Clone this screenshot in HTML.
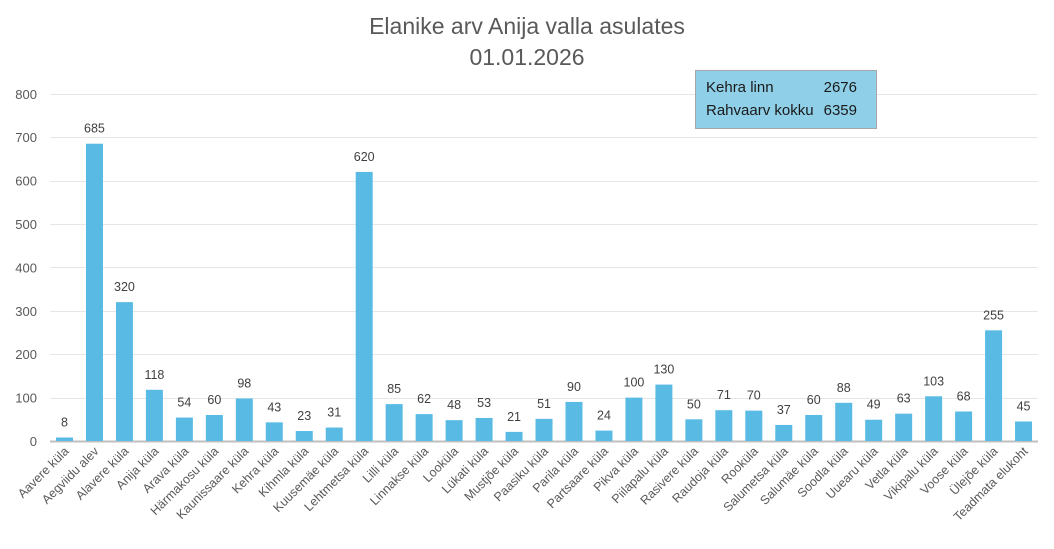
<!DOCTYPE html>
<html><head><meta charset="utf-8"><style>
html,body{margin:0;padding:0;background:#fff}
svg{display:block;font-family:"Liberation Sans",sans-serif}
</style></head><body>
<svg width="1054" height="549" viewBox="0 0 1054 549" xmlns="http://www.w3.org/2000/svg">
<rect width="1054" height="549" fill="#fff"/>
<text x="527" y="34" text-anchor="middle" font-size="23" fill="#595959">Elanike arv Anija valla asulates</text>
<text x="527" y="65" text-anchor="middle" font-size="23" fill="#595959">01.01.2026</text>
<g id="grid" stroke="#e6e6e6" stroke-width="1"></g>
<g id="ylab" font-size="13" fill="#595959" text-anchor="end"></g>
<line x1="50" y1="441.5" x2="1038" y2="441.5" stroke="#bfbfbf" stroke-width="2"/>
<g id="bars"></g>
<rect x="695.5" y="70.5" width="181" height="58" fill="#8fd0e8" stroke="#a6a6a6"/>
<text x="706" y="92" font-size="15" fill="#1a1a1a">Kehra linn</text>
<text x="857" y="92" font-size="15" fill="#1a1a1a" text-anchor="end">2676</text>
<text x="706" y="115" font-size="15" fill="#1a1a1a">Rahvaarv kokku</text>
<text x="857" y="115" font-size="15" fill="#1a1a1a" text-anchor="end">6359</text>
</svg>
<script>
var names=["Aavere küla","Aegviidu alev","Alavere küla","Anija küla","Arava küla","Härmakosu küla","Kaunissaare küla","Kehra küla","Kihmla küla","Kuusemäe küla","Lehtmetsa küla","Lilli küla","Linnakse küla","Looküla","Lükati küla","Mustjõe küla","Paasiku küla","Parila küla","Partsaare küla","Pikva küla","Piilapalu küla","Rasivere küla","Raudoja küla","Rooküla","Salumetsa küla","Salumäe küla","Soodla küla","Uuearu küla","Vetla küla","Vikipalu küla","Voose küla","Ülejõe küla","Teadmata elukoht"];
var vals=[8,685,320,118,54,60,98,43,23,31,620,85,62,48,53,21,51,90,24,100,130,50,71,70,37,60,88,49,63,103,68,255,45];
var NS="http://www.w3.org/2000/svg";
function el(t,a,p,txt){var e=document.createElementNS(NS,t);for(var k in a)e.setAttribute(k,a[k]);if(txt!=null)e.textContent=txt;document.getElementById(p).appendChild(e);}
var y0=441,s=0.434;
for(var v=100;v<=800;v+=100){var y=Math.round(y0-v*s)+0.5;el("line",{x1:50,y1:y,x2:1038,y2:y},"grid");}
for(var v=0;v<=800;v+=100){el("text",{x:37,y:y0-v*s+5},"ylab",String(v));}
for(var i=0;i<vals.length;i++){
 var cx=64.5+i*29.97,h=vals[i]*s;
 el("rect",{x:cx-8.5,y:y0-h,width:17,height:h,fill:"#59bbe3"},"bars");
 el("text",{x:cx,y:y0-h-11,"text-anchor":"middle","font-size":"12.5",fill:"#404040"},"bars",String(vals[i]));
 el("text",{x:0,y:0,"text-anchor":"end","font-size":"12.5",fill:"#595959",transform:"translate("+(cx+5)+",452) rotate(-45)"},"bars",names[i]);
}
</script>
</body></html>
